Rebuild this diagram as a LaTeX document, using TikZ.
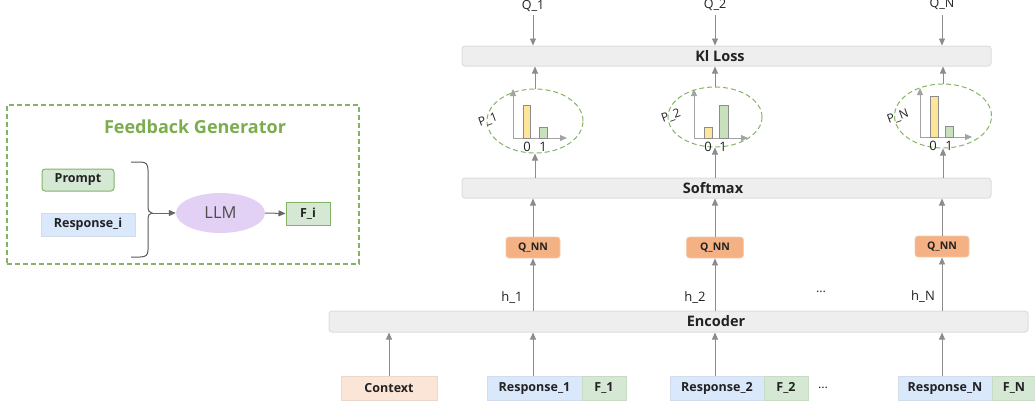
\documentclass[tikz,border=0pt]{standalone}
\usepackage{fontspec}
\setmainfont{Open Sans}
\usetikzlibrary{shapes.geometric,arrows.meta}
\definecolor{gborder}{HTML}{82B366}
\definecolor{gtitle}{HTML}{7AAE4C}
\definecolor{gfill}{HTML}{D5E8D4}
\definecolor{gline}{HTML}{C8DCC4}
\definecolor{bfill}{HTML}{DAE8FC}
\definecolor{bline}{HTML}{D2DCEA}
\definecolor{ofill}{HTML}{F4B183}
\definecolor{oline}{HTML}{F2CDB0}
\definecolor{pfill}{HTML}{FBE5D6}
\definecolor{pline}{HTML}{EBD8CC}
\definecolor{lfill}{HTML}{E2D0F5}
\definecolor{barfill}{HTML}{EEEEEE}
\definecolor{barline}{HTML}{DDDDDD}
\definecolor{arr}{HTML}{8C8C8C}
\definecolor{yfill}{HTML}{FFE599}
\definecolor{cfill}{HTML}{C9E0BC}
\definecolor{txt}{HTML}{222222}
\begin{document}
\begin{tikzpicture}[x=1pt,y=-1pt,
  wide/.style={draw=barline,fill=barfill,rounded corners=3pt,line width=1pt,minimum height=20pt,inner sep=0pt},
  bartext/.style={font=\fontsize{14.5}{16}\selectfont\bfseries,text=txt},
  arrow/.style={draw=arr,line width=0.8pt,-{Triangle[length=7pt,width=6pt]}},
  qnn/.style={draw=oline,fill=ofill,rounded corners=3pt,line width=0.8pt,minimum width=54pt,minimum height=21pt,inner sep=0pt,font=\fontsize{10.5}{12}\selectfont\bfseries,text=txt},
  inbox/.style={line width=0.8pt,minimum height=24pt,inner sep=0pt,font=\fontsize{12.5}{14}\selectfont\bfseries,text=txt},
  prob/.style={draw=gborder,dash pattern=on 5pt off 3pt,line width=1pt,ellipse,inner sep=0pt},
  lbl/.style={font=\fontsize{13}{15}\selectfont,text=txt},
  small/.style={font=\fontsize{12.5}{14}\selectfont,text=txt},
  plbl/.style={font=\fontsize{12}{14}\selectfont,text=txt,rotate=20,inner sep=0pt},
  axis/.style={draw=arr!80,line width=0.8pt,-{Triangle[length=7pt,width=6pt]}},
  pbar/.style={draw=arr,line width=0.8pt}
]
\useasboundingbox (0,0) rectangle (1035,405);

% ---------- Feedback generator ----------
\node[draw=gborder,dash pattern=on 5pt off 3pt,line width=1.2pt,minimum width=352pt,minimum height=159pt,inner sep=0pt] (fgbox) at (183,184.5) {};
\node[font=\fontsize{18}{20}\selectfont\bfseries,text=gtitle] (fgtitle) at (195,127) {Feedback Generator};
\node[draw=gborder,fill=gfill,rounded corners=3pt,line width=1pt,minimum width=72pt,minimum height=22pt,inner sep=0pt,font=\fontsize{12.5}{14}\selectfont\bfseries,text=txt] (prompt) at (78,180) {Prompt};
\node[draw=bline,fill=bfill,line width=0.8pt,minimum width=94pt,minimum height=23pt,inner sep=0pt,font=\fontsize{12.5}{14}\selectfont\bfseries,text=txt] (respi) at (88,224.5) {Response\_i};
\node[ellipse,fill=lfill,minimum width=89pt,minimum height=40pt,inner sep=0pt,font=\fontsize{16.5}{18}\selectfont,text=black!70] (llm) at (220.5,213) {LLM};
\node[draw=gborder,fill=gfill,line width=1pt,minimum width=44pt,minimum height=23pt,inner sep=0pt,font=\fontsize{12.5}{14}\selectfont\bfseries,text=txt] (fi) at (308,213.5) {F\_i};
\coordinate (btip) at (152,213);
\draw[draw=black!65,line width=1pt] (131,162) -- (140,162) .. controls (146,162) and (148,164) .. (148,170) -- (148,206) .. controls (148,211) and (149.5,213) .. (btip) .. controls (149.5,213) and (148,215) .. (148,220) -- (148,250) .. controls (148,255) and (146,257) .. (140,257) -- (131,257);
\draw[draw=black!60,line width=1pt,-{Triangle[length=7pt,width=6pt]}] (btip) -- (llm.west);
\draw[draw=black!60,line width=1pt,-{Triangle[length=7pt,width=6pt]}] (llm.east) -- (fi.west);

% ---------- wide bars ----------
\node[wide,minimum width=529pt] (kl) at (726.5,56) {};
\node[bartext] (kltext) at (720,56) {Kl Loss};
\node[wide,minimum width=529pt] (sm) at (726.5,188) {};
\node[bartext] (smtext) at (713,188) {Softmax};
\node[wide,minimum width=699pt,minimum height=21pt] (enc) at (678.5,321.5) {};
\node[bartext] (enctext) at (716,321.5) {Encoder};

% ---------- Q labels ----------
\node[small] (q1) at (533,6.5) {Q\_1};
\node[small] (q2) at (715,5) {Q\_2};
\node[small] (qN) at (942,4.5) {Q\_N};
\draw[arrow] (533,15) -- (q1 |- kl.north);
\draw[arrow] (715,15) -- (q2 |- kl.north);
\draw[arrow] (942,15) -- (qN |- kl.north);

% ---------- probability ellipses ----------
\node[prob,minimum width=96pt,minimum height=64pt] (e1) at (535,121) {};
\node[prob,minimum width=94pt,minimum height=60pt] (e2) at (715,117) {};
\node[prob,minimum width=97pt,minimum height=64pt] (eN) at (943,116) {};
\draw[arrow] (e1.north) -- (e1 |- kl.south);
\draw[arrow] (e2.north) -- (e2 |- kl.south);
\draw[arrow] (eN.north) -- (eN |- kl.south);
\draw[arrow] (sm.north -| e1) -- (e1.south);
\draw[arrow] (sm.north -| e2) -- (e2.south);
\draw[arrow] (sm.north -| eN) -- (eN.south);

% chart 1
\draw[axis] (513,138) -- (513,89);
\draw[axis] (513,138) -- (567,138);
\draw[pbar,fill=yfill] (523,105) rectangle (530,138);
\draw[pbar,fill=cfill] (539,127) rectangle (547,138);
\node[lbl] (z1) at (527,146.5) {0};
\node[lbl] (o1) at (543,146.5) {1};
\node[plbl] (p1) at (488,120) {P\_1};
% chart 2
\draw[axis] (694,138) -- (694,89);
\draw[axis] (694,138) -- (748,138);
\draw[pbar,fill=yfill] (704,127) rectangle (712,138);
\draw[pbar,fill=cfill] (719,105) rectangle (728,138);
\node[lbl] (z2) at (708,146.5) {0};
\node[lbl] (o2) at (723,146.5) {1};
\node[plbl] (p2) at (671,116) {P\_2};
% chart N
\draw[axis] (920,137) -- (920,88);
\draw[axis] (920,137) -- (972,137);
\draw[pbar,fill=yfill] (930,96) rectangle (938,137);
\draw[pbar,fill=cfill] (945,126) rectangle (953,137);
\node[lbl] (zN) at (933,145.5) {0};
\node[lbl] (oN) at (949,145.5) {1};
\node[plbl] (pN) at (898,117) {P\_N};

% ---------- Q_NN ----------
\node[qnn] (n1) at (533,247.5) {Q\_NN};
\node[qnn,minimum width=57pt] (n2) at (715,247.5) {Q\_NN};
\node[qnn] (nN) at (942,246.5) {Q\_NN};
\draw[arrow] (n1.north) -- (n1 |- sm.south);
\draw[arrow] (n2.north) -- (n2 |- sm.south);
\draw[arrow] (nN.north) -- (nN |- sm.south);
\draw[arrow] (enc.north -| n1) -- (n1.south);
\draw[arrow] (enc.north -| n2) -- (n2.south);
\draw[arrow] (enc.north -| nN) -- (nN.south);
\node[lbl] (h1) at (512,298) {h\_1};
\node[lbl] (h2) at (695,298) {h\_2};
\node[lbl] (hN) at (923,297) {h\_N};
\node[small] (dots1) at (821,292) {...};

% ---------- inputs ----------
\node[inbox,draw=pline,fill=pfill,minimum width=96pt] (ctx) at (389,388) {Context};
\node[inbox,draw=bline,fill=bfill,minimum width=95pt] (r1) at (534.5,388.5) {Response\_1};
\node[inbox,draw=gline,fill=gfill,minimum width=44pt] (f1) at (604,388) {F\_1};
\node[inbox,draw=bline,fill=bfill,minimum width=94pt] (r2) at (717,388.5) {Response\_2};
\node[inbox,draw=gline,fill=gfill,minimum width=44pt] (f2) at (786,388) {F\_2};
\node[small] (dots2) at (823,388) {...};
\node[inbox,draw=bline,fill=bfill,minimum width=94pt] (rN) at (945,388.5) {Response\_N};
\node[inbox,draw=gline,fill=gfill,minimum width=44pt] (fN) at (1014,388) {F\_N};
\draw[arrow] (ctx.north) -- (ctx |- enc.south);
\draw[arrow] (r1.north -| n1) -- (enc.south -| n1);
\draw[arrow] (r2.north -| n2) -- (enc.south -| n2);
\draw[arrow] (rN.north -| nN) -- (enc.south -| nN);
\end{tikzpicture}
\end{document}
